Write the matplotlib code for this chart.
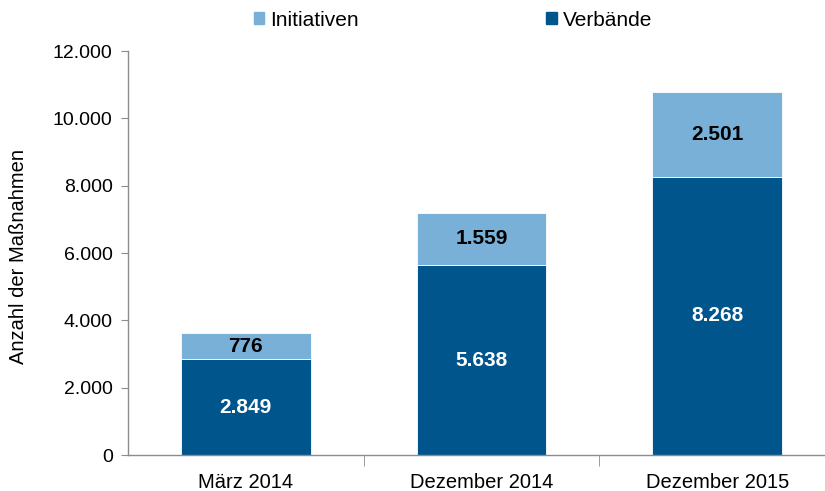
import matplotlib.pyplot as plt
import numpy as np
from matplotlib.patches import Patch

plt.rcParams['font.family'] = ['Liberation Sans', 'DejaVu Sans']

# data
categories = ['März 2014', 'Dezember 2014', 'Dezember 2015']
verbaende = [2849, 5638, 8268]
initiativen = [776, 1559, 2501]
yticks = [0, 2000, 4000, 6000, 8000, 10000, 12000]
ytick_labels = ['0', '2.000', '4.000', '6.000', '8.000', '10.000', '12.000']

dark = '#00558C'
light = '#78B0D7'


def fmt(v):
    return f'{v:,}'.replace(',', '.')


fig = plt.figure(figsize=(8.25, 4.91), dpi=100)
ax = fig.add_axes([128 / 825, 1 - 455 / 491, 1 - 128 / 825, (455 - 51) / 491])

x = np.arange(len(categories))
w = 0.55
b1 = ax.bar(x, verbaende, w, color=dark, edgecolor='white', linewidth=0.6)
b2 = ax.bar(x, initiativen, w, bottom=verbaende, color=light, edgecolor='white', linewidth=0.6)

for xi, v, i in zip(x, verbaende, initiativen):
    ax.text(xi, v / 2, fmt(v), ha='center', va='center', color='white',
            fontsize=15, fontweight='bold')
    ax.text(xi, v + i / 2, fmt(i), ha='center', va='center', color='black',
            fontsize=15, fontweight='bold')

ax.set_xlim(-0.5, 2.5 - 10 / 235)
ax.set_ylim(0, 12000)
ax.set_yticks(yticks)
ax.set_yticklabels(ytick_labels, fontsize=14)
ax.set_xticks(x)
ax.set_xticklabels(categories, fontsize=14.5)
ax.tick_params(axis='x', length=0, pad=13)
ax.set_xticks([0.5, 1.5], minor=True)
ax.tick_params(axis='x', which='minor', length=8, color='#8c8c8c')
ax.tick_params(axis='y', length=5, color='#8c8c8c', pad=6)

for s in ['top', 'right']:
    ax.spines[s].set_visible(False)
for s in ['left', 'bottom']:
    ax.spines[s].set_color('#8c8c8c')
    ax.spines[s].set_linewidth(1)

fig.text(19 / 825, 1 - 257 / 491, 'Anzahl der Maßnahmen', rotation=90,
         ha='center', va='center', fontsize=14.5)

handles = [Patch(color=light, label='Initiativen'), Patch(color=dark, label='Verbände')]
fig.legend(handles=handles, loc='center', bbox_to_anchor=(453 / 825, 1 - 20 / 491),
           ncol=2, frameon=False, fontsize=15, handlelength=0.5, handleheight=0.5,
           handletextpad=0.3, columnspacing=9.0)

fig.savefig('out.png', dpi=100)
